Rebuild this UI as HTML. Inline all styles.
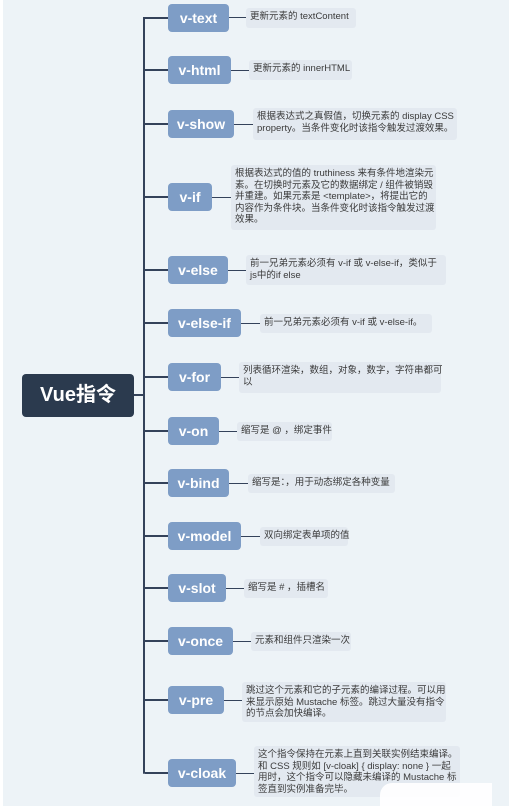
<!DOCTYPE html>
<html><head><meta charset="utf-8"><style>
body{margin:0;width:520px;height:809px;background:#fff;position:relative;overflow:hidden;font-family:"Liberation Sans","Noto Sans CJK SC",sans-serif}
.bg{position:absolute;left:3px;top:0;width:506px;height:806px;background:#edf3f7}
.n{position:absolute;left:168px;height:28px;line-height:28px;background:#7e9dc6;color:#fff;font-weight:bold;font-size:14px;text-align:center;border-radius:4px}
.d{position:absolute;background:#e3e9f0;color:#3a3a3a;font-size:9.5px;line-height:11.5px;padding:3px 4px;border-radius:3px;box-sizing:border-box;white-space:nowrap}
.h{position:absolute;height:2px;background:#34425a}
.root{position:absolute;left:22px;top:374px;width:112px;height:43px;background:#2b3a4e;color:#fff;font-weight:bold;font-size:20px;line-height:43px;text-align:center;border-radius:4px}
</style></head><body>
<div class="bg"></div>
<div style="position:absolute;left:143px;top:18px;width:2px;height:756px;background:#34425a;border-radius:2px"></div>
<div class="h" style="left:134px;top:394px;width:10px"></div>
<div class="root">Vue指令</div>

<div class="h" style="left:143px;top:17px;width:25px"></div><div class="n" style="top:4px;width:61px">v-text</div>
<div class="h" style="left:229px;top:17px;width:17px;height:1px"></div><div class="d" style="left:246px;top:8px;width:110px;height:20px">更新元素的 textContent</div>

<div class="h" style="left:143px;top:69px;width:25px"></div><div class="n" style="top:56px;width:63px">v-html</div>
<div class="h" style="left:231px;top:70px;width:18px;height:1px"></div><div class="d" style="left:249px;top:60px;width:103px;height:20px">更新元素的 innerHTML</div>

<div class="h" style="left:143px;top:123px;width:25px"></div><div class="n" style="top:110px;width:66px">v-show</div>
<div class="h" style="left:234px;top:124px;width:19px;height:1px"></div><div class="d" style="left:253px;top:108px;width:204px;height:32px">根据表达式之真假值，切换元素的 display CSS<br>property。当条件变化时该指令触发过渡效果。</div>

<div class="h" style="left:143px;top:196px;width:25px"></div><div class="n" style="top:183px;width:44px">v-if</div>
<div class="h" style="left:212px;top:197px;width:19px;height:1px"></div><div class="d" style="left:231px;top:165px;width:205px;height:65px">根据表达式的值的 truthiness 来有条件地渲染元<br>素。在切换时元素及它的数据绑定 / 组件被销毁<br>并重建。如果元素是 &lt;template&gt;，将提出它的<br>内容作为条件块。当条件变化时该指令触发过渡<br>效果。</div>

<div class="h" style="left:143px;top:269px;width:25px"></div><div class="n" style="top:256px;width:60px">v-else</div>
<div class="h" style="left:228px;top:270px;width:18px;height:1px"></div><div class="d" style="left:246px;top:255px;width:200px;height:30px">前一兄弟元素必须有 v-if 或 v-else-if，类似于<br>js中的if else</div>

<div class="h" style="left:143px;top:322px;width:25px"></div><div class="n" style="top:309px;width:73px">v-else-if</div>
<div class="h" style="left:241px;top:323px;width:19px;height:1px"></div><div class="d" style="left:260px;top:314px;width:172px;height:19px">前一兄弟元素必须有 v-if 或 v-else-if。</div>

<div class="h" style="left:143px;top:376px;width:25px"></div><div class="n" style="top:363px;width:53px">v-for</div>
<div class="h" style="left:221px;top:377px;width:18px;height:1px"></div><div class="d" style="left:239px;top:362px;width:202px;height:31px">列表循环渲染，数组，对象，数字，字符串都可<br>以</div>

<div class="h" style="left:143px;top:430px;width:25px"></div><div class="n" style="top:417px;width:51px">v-on</div>
<div class="h" style="left:219px;top:431px;width:18px;height:1px"></div><div class="d" style="left:237px;top:422px;width:95px;height:19px">缩写是 @ ，绑定事件</div>

<div class="h" style="left:143px;top:482px;width:25px"></div><div class="n" style="top:469px;width:61px">v-bind</div>
<div class="h" style="left:229px;top:483px;width:19px;height:1px"></div><div class="d" style="left:248px;top:474px;width:147px;height:19px">缩写是：，用于动态绑定各种变量</div>

<div class="h" style="left:143px;top:535px;width:25px"></div><div class="n" style="top:522px;width:73px">v-model</div>
<div class="h" style="left:241px;top:536px;width:19px;height:1px"></div><div class="d" style="left:260px;top:527px;width:88px;height:19px">双向绑定表单项的值</div>

<div class="h" style="left:143px;top:587px;width:25px"></div><div class="n" style="top:574px;width:58px">v-slot</div>
<div class="h" style="left:226px;top:588px;width:18px;height:1px"></div><div class="d" style="left:244px;top:579px;width:84px;height:19px">缩写是 # ，插槽名</div>

<div class="h" style="left:143px;top:640px;width:25px"></div><div class="n" style="top:627px;width:65px">v-once</div>
<div class="h" style="left:233px;top:641px;width:18px;height:1px"></div><div class="d" style="left:251px;top:632px;width:100px;height:19px">元素和组件只渲染一次</div>

<div class="h" style="left:143px;top:699px;width:25px"></div><div class="n" style="top:686px;width:56px">v-pre</div>
<div class="h" style="left:224px;top:700px;width:18px;height:1px"></div><div class="d" style="left:242px;top:682px;width:204px;height:40px">跳过这个元素和它的子元素的编译过程。可以用<br>来显示原始 Mustache 标签。跳过大量没有指令<br>的节点会加快编译。</div>

<div class="h" style="left:145px;top:772px;width:23px"></div><div class="n" style="top:759px;width:68px">v-cloak</div>
<div class="h" style="left:236px;top:773px;width:18px;height:1px"></div><div class="d" style="left:254px;top:746px;width:206px;height:51px">这个指令保持在元素上直到关联实例结束编译。<br>和 CSS 规则如 [v-cloak] { display: none } 一起<br>用时，这个指令可以隐藏未编译的 Mustache 标<br>签直到实例准备完毕。</div>
<div style="position:absolute;left:380px;top:783px;width:112px;height:26px;background:#fff;border-radius:12px 0 0 0;opacity:.9"></div>
</body></html>
